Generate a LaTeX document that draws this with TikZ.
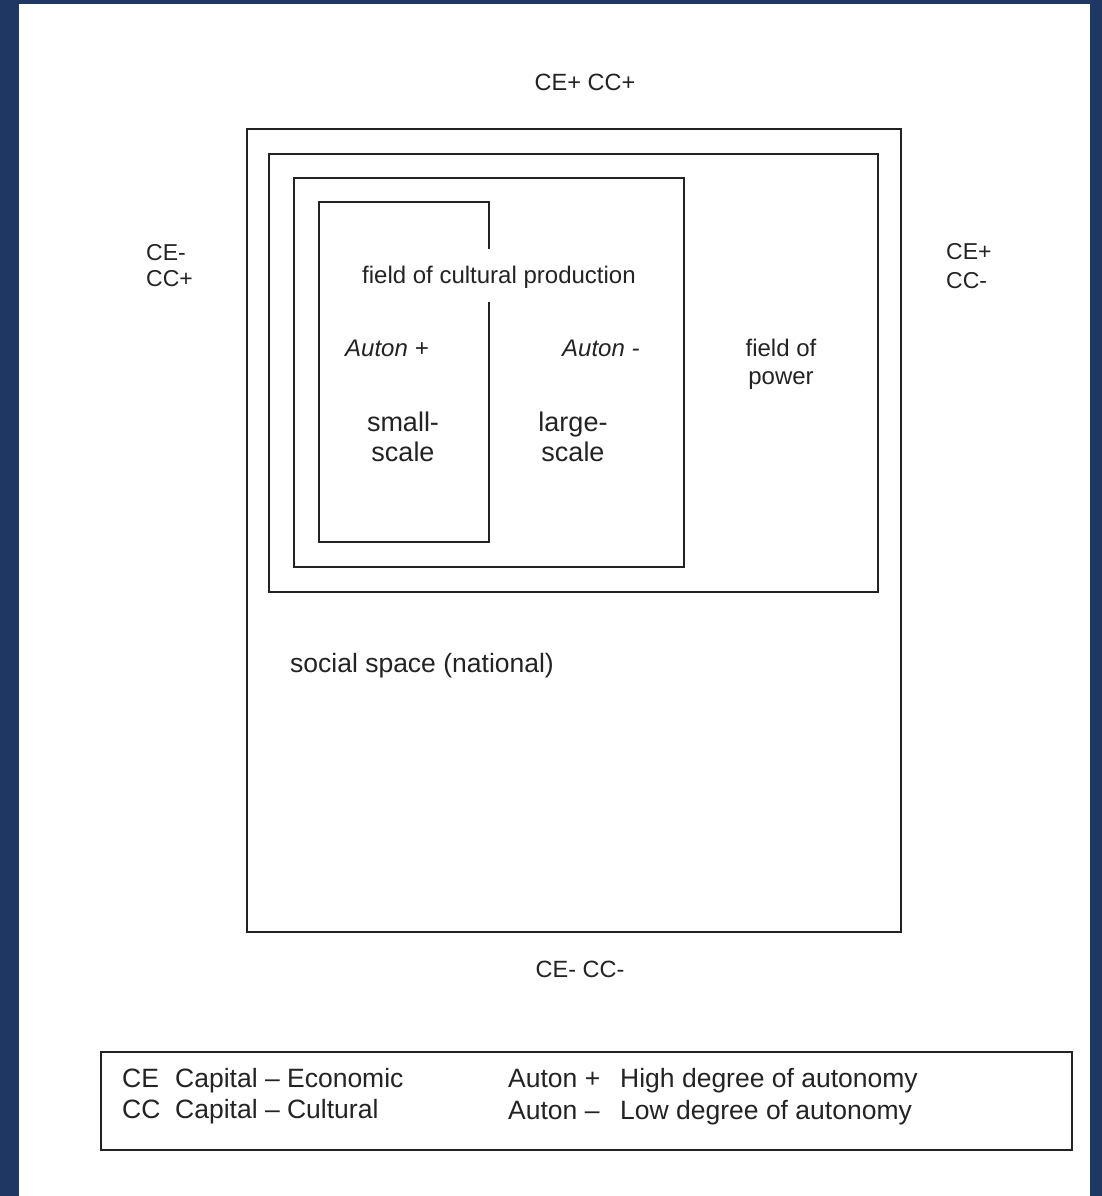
\documentclass[tikz,border=0pt]{standalone}
\usepackage{fontspec}
\setmainfont{Liberation Sans}
\definecolor{navy}{RGB}{31,56,99}
\definecolor{ink}{RGB}{35,35,35}
\begin{document}
\begin{tikzpicture}[x=1pt,y=-1pt,
  box/.style={draw=ink,line width=1.8pt},
  lbl/.style={inner sep=0pt,text=ink,font=\fontsize{23.5}{25}\selectfont},
  big/.style={inner sep=0pt,text=ink,font=\fontsize{27}{30}\selectfont,align=center},
  leg/.style={inner sep=0pt,text=ink,font=\fontsize{26.5}{30}\selectfont},
  ital/.style={inner sep=0pt,text=ink,font=\fontsize{24}{26}\selectfont\itshape}]
\useasboundingbox (0,0) rectangle (1102,1196);
\fill[navy] (0,0) rectangle (1102,1196);
\fill[white] (19,4) rectangle (1090,1196);
% boxes
\draw[box] (247,129) rectangle (901,932);
\draw[box] (269,154) rectangle (878,592);
\draw[box] (294,178) rectangle (684,567);
\draw[box] (489,249) -- (489,202) -- (319,202) -- (319,542) -- (489,542) -- (489,302);
\draw[box,line width=1.6pt] (101,1052) rectangle (1072,1150);
% corner labels
\node[lbl,anchor=base] (tp) at (585,91) {CE+ CC+};
\node[lbl,anchor=base] (bt) at (580,977) {CE- CC-};
\node[lbl,anchor=base west,align=left,font=\fontsize{23}{26}\selectfont] (lf) at (146,286) {CE-\\CC+};
\node[lbl,anchor=base west,align=left,font=\fontsize{23}{29}\selectfont] (rt) at (946,288) {CE+\\CC-};
% inner labels
\node[lbl,anchor=base west,font=\fontsize{24}{26}\selectfont] (fcp) at (362,283) {field of cultural production};
\node[ital,anchor=base west] (ap) at (345,356) {Auton +};
\node[ital,anchor=base west] (am) at (562,356) {Auton -};
\node[lbl,anchor=base,align=center,font=\fontsize{24}{28}\selectfont] (fp) at (781,384) {field of\\power};
\node[big,anchor=base] (ss) at (403,461) {small-\\scale};
\node[big,anchor=base] (ls) at (573,461) {large-\\scale};
\node[lbl,anchor=base west,font=\fontsize{26.5}{28}\selectfont] (soc) at (290,672) {social space (national)};
% legend
\node[leg,anchor=base west] (l1a) at (122,1087) {CE};
\node[leg,anchor=base west] (l1b) at (175,1087) {Capital – Economic};
\node[leg,anchor=base west] (l2a) at (122,1118) {CC};
\node[leg,anchor=base west] (l2b) at (175,1118) {Capital – Cultural};
\node[leg,anchor=base west] (l3a) at (508,1087) {Auton +};
\node[leg,anchor=base west] (l3b) at (620,1087) {High degree of autonomy};
\node[leg,anchor=base west] (l4a) at (508,1119) {Auton –};
\node[leg,anchor=base west] (l4b) at (620,1119) {Low degree of autonomy};
\end{tikzpicture}
\end{document}
